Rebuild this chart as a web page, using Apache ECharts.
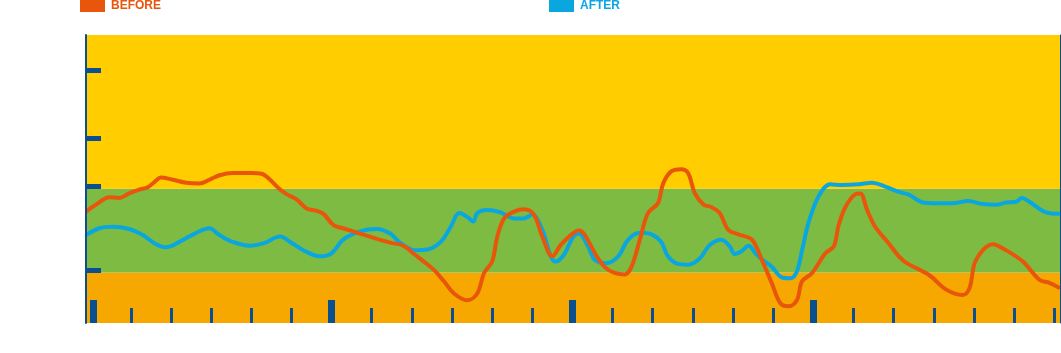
<!DOCTYPE html>
<html>
<head>
<meta charset="utf-8">
<script src="https://cdn.jsdelivr.net/npm/echarts@6/dist/echarts.min.js"></script>
<style>
  html, body { margin: 0; padding: 0; background: #fff; }
  #chart { width: 1061px; height: 353px; }
</style>
</head>
<body>
<div id="chart"></div>
<script>
// hours since start, glucose-like reading
const beforeHours = [-0.115, 0.13, 0.47, 0.72, 0.96, 1.21, 1.42, 1.59, 1.75, 2.05, 2.38, 2.71, 2.96, 3.21, 3.54, 4.0,
  4.26, 4.47, 4.72, 4.88, 5.13, 5.38, 5.63, 5.8, 6.05, 6.29, 6.71, 7.13, 7.46, 7.79, 8.08, 8.3, 8.55, 8.8, 9.05,
  9.38, 9.63, 9.8, 10.0, 10.13, 10.3, 10.55, 10.79, 11.04, 11.25, 11.5, 11.71, 11.96, 12.16, 12.31, 12.56, 12.8,
  13.05, 13.3, 13.47, 13.68, 13.88, 14.13, 14.26, 14.46, 14.71, 14.88, 15.05, 15.27, 15.46, 15.67, 15.88, 16.13,
  16.47, 16.72, 16.97, 17.18, 17.39, 17.59, 17.72, 17.97, 18.3, 18.51, 18.63, 18.8, 19.05, 19.17, 19.34, 19.54,
  19.88, 20.13, 20.33, 20.89, 21.31, 21.72, 21.89, 22.05, 22.47, 22.8, 23.22, 23.63, 23.88, 24.144];
const beforeValues = [147, 156, 166, 165, 171, 176, 179, 186, 192, 189, 185, 184, 189, 195, 198, 198,
  197, 189, 176, 170, 163, 151, 148, 144, 129, 125, 118, 111, 106, 102, 90, 81, 70, 55, 39,
  30, 39, 66, 81, 114, 138, 147, 150, 143, 114, 88, 103, 116, 122, 116, 92, 74,
  66, 64, 74, 110, 145, 158, 184, 200, 203, 198, 171, 156, 153, 145, 123, 117,
  110, 83, 52, 26, 22, 30, 55, 66, 92, 101, 129, 153, 170, 171, 149, 127,
  105, 88, 79, 63, 44, 37, 46, 83, 104, 96, 81, 57, 53, 46];

const afterHours = [-0.115, 0.22, 0.55, 0.96, 1.3, 1.63, 1.88, 2.21, 2.63, 2.96, 3.21, 3.54, 3.97, 4.3, 4.72, 4.97,
  5.3, 5.71, 6.0, 6.29, 6.71, 7.13, 7.46, 7.71, 8.08, 8.39, 8.72, 8.97, 9.18, 9.38, 9.53, 9.63, 9.88, 10.21,
  10.55, 10.79, 11.0, 11.25, 11.46, 11.58, 11.79, 12.0, 12.16, 12.39, 12.56, 12.84, 13.14, 13.39, 13.68, 13.97,
  14.21, 14.38, 14.63, 14.88, 15.17, 15.42, 15.71, 15.92, 16.04, 16.22, 16.39, 16.56, 16.72, 16.97, 17.22, 17.43,
  17.59, 17.72, 17.89, 18.13, 18.42, 18.72, 19.13, 19.46, 19.79, 20.13, 20.39, 20.73, 21.06, 21.47, 21.85, 22.22,
  22.55, 22.8, 23.05, 23.2, 23.38, 23.8, 24.144];
const afterValues = [116, 125, 127, 124, 116, 104, 100, 107, 119, 125, 116, 107, 102, 105, 114, 107,
  96, 88, 92, 110, 121, 124, 118, 106, 96, 97, 107, 127, 145, 140, 134, 145, 149, 146,
  138, 138, 143, 123, 88, 81, 90, 112, 118, 101, 83, 79, 88, 110, 119, 117,
  107, 88, 78, 77, 85, 103, 110, 101, 91, 95, 102, 92, 84, 74, 60, 59,
  68, 96, 134, 167, 183, 182, 183, 185, 180, 173, 169, 159, 158, 158, 161, 157,
  156, 159, 160, 165, 160, 146, 144];

// target range limits
const lowLimit = 66.5;
const highLimit = 177;
const yTicks = [70, 180, 244, 334];
const minorHourTicks = [1, 2, 3, 4, 5, 7, 8, 9, 10, 11, 13, 14, 15, 16, 17, 19, 20, 21, 22, 23, 24];
const majorHourTicks = [0.07, 6, 12, 18];

const axisBlue = '#0a4f8e';
const zip = (xs, ys) => xs.map((x, i) => [x, ys[i]]);

let chart = echarts.init(document.getElementById('chart'));
let options = {
  animation: false,
  legend: [
    {left: 80, top: 0, padding: 0, itemWidth: 25, itemHeight: 12, icon: 'rect', data: ['BEFORE'],
      textStyle: {color: '#e8560c', fontWeight: 'bold', fontSize: 12, fontFamily: 'Liberation Sans', padding: [2, 0, 0, 1]}},
    {left: 549, top: 0, padding: 0, itemWidth: 25, itemHeight: 12, icon: 'rect', data: ['AFTER'],
      textStyle: {color: '#0aa6df', fontWeight: 'bold', fontSize: 12, fontFamily: 'Liberation Sans', padding: [2, 0, 0, 1]}}
  ],
  grid: {left: 86, right: 1, top: 35, bottom: 30},
  xAxis: [
    {type: 'value', z: 5, min: -0.115, max: 24.144, axisLine: {show: false, onZero: false}, axisLabel: {show: false}, splitLine: {show: false},
      axisTick: {show: true, inside: true, length: 15, customValues: minorHourTicks, lineStyle: {color: axisBlue, width: 3}}},
    {type: 'value', z: 5, min: -0.115, max: 24.144, position: 'bottom', axisLine: {show: false, onZero: false}, axisLabel: {show: false}, splitLine: {show: false},
      axisTick: {show: true, inside: true, length: 23, customValues: majorHourTicks, lineStyle: {color: axisBlue, width: 7}}}
  ],
  yAxis: [
    {type: 'value', z: 5, min: 0, max: 380, splitLine: {show: false}, axisLabel: {show: false},
      axisLine: {show: true, onZero: false, lineStyle: {color: axisBlue, width: 2}},
      axisTick: {show: true, inside: true, length: 15, customValues: yTicks, lineStyle: {color: axisBlue, width: 5}}},
    {type: 'value', z: 5, min: 0, max: 380, position: 'right', splitLine: {show: false}, axisLabel: {show: false}, axisTick: {show: false},
      axisLine: {show: true, onZero: false, lineStyle: {color: axisBlue, width: 1}}}
  ],
  series: [
    {
      name: 'AFTER', type: 'line', smooth: 0.35, symbol: 'none',
      color: '#0aa6df', lineStyle: {width: 4, color: '#0aa6df'},
      data: zip(afterHours, afterValues),
      markArea: {
        silent: true,
        data: [
          [{yAxis: 0, itemStyle: {color: '#f6a800', opacity: 1}}, {yAxis: lowLimit}],
          [{yAxis: lowLimit, itemStyle: {color: '#7dbb42', opacity: 1}}, {yAxis: highLimit}],
          [{yAxis: highLimit, itemStyle: {color: '#ffcd00', opacity: 1}}, {yAxis: 380}]
        ]
      }
    },
    {
      name: 'BEFORE', type: 'line', smooth: 0.35, symbol: 'none',
      color: '#e8560c', lineStyle: {width: 4, color: '#e8560c'},
      data: zip(beforeHours, beforeValues)
    }
  ]
};
chart.setOption(options);
</script>
</body>
</html>
